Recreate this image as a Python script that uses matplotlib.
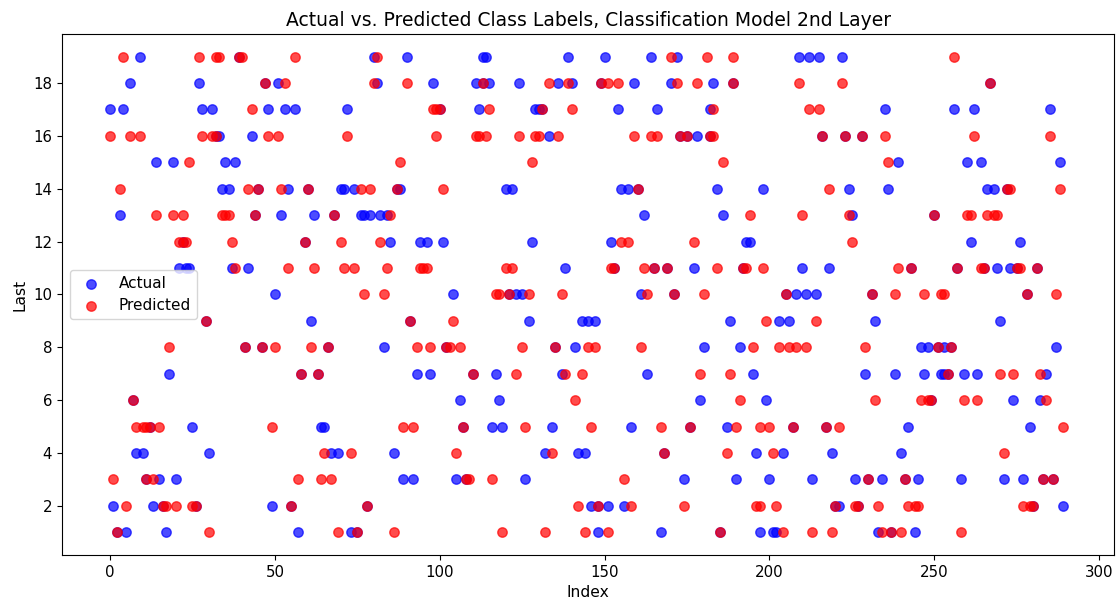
"""Actual vs. predicted class labels, classification model 2nd layer."""

import matplotlib

matplotlib.use("Agg")
import matplotlib.pyplot as plt

# Index positions, one list per class label ("Last").
actual_19 = [9, 39, 80, 90, 113, 114, 139, 150, 164, 172, 209, 212, 215, 222]
actual_18 = [6, 27, 47, 51, 81, 98, 111, 113, 115, 124, 136, 140, 149, 159, 170, 183, 189, 267]
actual_17 = [0, 4, 28, 31, 48, 53, 56, 72, 100, 112, 129, 130, 131, 154, 166, 182, 235, 256, 262, 285]
actual_16 = [32, 33, 43, 133, 173, 175, 178, 182, 216, 223, 228]
actual_15 = [14, 19, 35, 38, 239, 260, 264, 288]
actual_14 = [34, 36, 45, 54, 60, 70, 71, 74, 87, 88, 120, 122, 155, 157, 160, 184, 198, 224, 236, 266, 268, 272]
actual_13 = [3, 44, 52, 62, 68, 76, 77, 79, 82, 84, 162, 186, 225, 250]
actual_12 = [22, 59, 85, 94, 96, 101, 128, 152, 193, 194, 261, 276]
actual_11 = [21, 23, 24, 37, 42, 138, 153, 165, 169, 177, 192, 210, 218, 243, 257, 265, 269, 273, 275, 281]
actual_10 = [50, 104, 121, 123, 125, 161, 171, 205, 208, 211, 214, 231, 278]
actual_9 = [29, 61, 91, 127, 143, 145, 147, 188, 203, 206, 232, 270]
actual_8 = [41, 46, 66, 83, 102, 135, 141, 180, 191, 246, 248, 251, 253, 255, 287]
actual_7 = [18, 58, 63, 93, 97, 110, 117, 137, 163, 195, 229, 238, 247, 252, 253, 254, 259, 263, 284]
actual_6 = [7, 106, 118, 179, 199, 249, 274, 282]
actual_5 = [12, 25, 64, 65, 107, 116, 119, 134, 158, 176, 187, 207, 217, 242, 279]
actual_4 = [8, 10, 30, 67, 69, 86, 132, 142, 144, 168, 196, 204, 219, 240]
actual_3 = [11, 15, 20, 89, 92, 105, 108, 126, 174, 190, 200, 213, 226, 230, 234, 241, 245, 258, 271, 277, 283, 286]
actual_2 = [1, 13, 16, 26, 49, 55, 78, 146, 148, 151, 156, 220, 221, 227, 280, 289]
actual_1 = [2, 5, 17, 57, 73, 75, 148, 167, 185, 197, 201, 202, 233, 237, 244]

pred_19 = [4, 27, 32, 33, 39, 40, 56, 81, 170, 181, 189, 256]
pred_18 = [47, 53, 80, 90, 113, 133, 139, 149, 151, 154, 172, 178, 189, 209, 222, 267]
pred_17 = [43, 98, 99, 100, 115, 131, 140, 183, 212, 215]
pred_16 = [0, 6, 9, 28, 31, 32, 48, 51, 72, 99, 111, 112, 114, 124, 129, 130, 136, 159, 164, 166, 173, 175,
           182, 183, 216, 223, 228, 235, 262, 285]
pred_15 = [24, 88, 128, 186, 236]
pred_14 = [3, 42, 45, 52, 60, 76, 79, 87, 101, 160, 218, 272, 273, 288]
pred_13 = [14, 19, 22, 34, 35, 36, 44, 68, 85, 194, 210, 224, 250, 260, 261, 266, 268, 269]
pred_12 = [21, 22, 23, 37, 59, 70, 82, 155, 157, 177, 225]
pred_11 = [38, 54, 62, 71, 74, 84, 94, 95, 96, 120, 122, 152, 153, 162, 165, 169, 184, 192, 193, 198, 239,
           243, 257, 264, 265, 275, 276, 281]
pred_10 = [77, 83, 117, 118, 121, 127, 137, 163, 171, 180, 205, 231, 238, 247, 252, 253, 278, 287]
pred_9 = [29, 91, 104, 199, 214]
pred_8 = [18, 41, 46, 50, 61, 66, 93, 97, 102, 103, 106, 125, 135, 145, 147, 161, 195, 203, 206, 208, 211,
          229, 251, 255]
pred_7 = [58, 63, 110, 123, 138, 143, 179, 188, 254, 270, 274, 282]
pred_6 = [7, 141, 191, 232, 246, 248, 249, 259, 263, 284]
pred_5 = [8, 10, 11, 12, 15, 49, 89, 92, 107, 126, 146, 167, 176, 190, 197, 200, 207, 217, 221, 289]
pred_4 = [65, 73, 105, 134, 168, 187, 201, 271]
pred_3 = [1, 11, 13, 57, 64, 67, 108, 109, 116, 156, 230, 241, 283, 286]
pred_2 = [5, 16, 17, 20, 25, 26, 55, 78, 142, 148, 158, 174, 196, 197, 202, 220, 226, 227, 233, 242, 244,
          245, 277, 279, 280]
pred_1 = [2, 30, 69, 75, 86, 119, 132, 144, 151, 185, 204, 213, 219, 234, 237, 240, 258]

LABELS = list(range(19, 0, -1))
ACTUAL = [actual_19, actual_18, actual_17, actual_16, actual_15, actual_14, actual_13, actual_12, actual_11,
          actual_10, actual_9, actual_8, actual_7, actual_6, actual_5, actual_4, actual_3, actual_2, actual_1]
PREDICTED = [pred_19, pred_18, pred_17, pred_16, pred_15, pred_14, pred_13, pred_12, pred_11,
             pred_10, pred_9, pred_8, pred_7, pred_6, pred_5, pred_4, pred_3, pred_2, pred_1]
X_TICKS = [0, 50, 100, 150, 200, 250, 300]
Y_TICKS = [2, 4, 6, 8, 10, 12, 14, 16, 18]


def _flatten(groups):
    xs, ys = [], []
    for label, idx in zip(LABELS, groups):
        xs.extend(idx)
        ys.extend([label] * len(idx))
    return xs, ys


def main():
    fig, ax = plt.subplots(figsize=(11.17, 6.09), dpi=100)

    xs, ys = _flatten(ACTUAL)
    ax.scatter(xs, ys, color="blue", alpha=0.7, s=46, label="Actual")
    xs, ys = _flatten(PREDICTED)
    ax.scatter(xs, ys, color="red", alpha=0.7, s=46, label="Predicted")

    ax.set_xlim(-14.56, 304.55)
    ax.set_ylim(0.147, 19.85)
    ax.set_xticks(X_TICKS)
    ax.set_yticks(Y_TICKS)
    ax.tick_params(labelsize=10.8)

    ax.set_title("Actual vs. Predicted Class Labels, Classification Model 2nd Layer", fontsize=13.5, pad=6)
    ax.set_xlabel("Index", fontsize=11.2)
    ax.set_ylabel("Last", fontsize=11.2)
    ax.legend(loc="center left", fontsize=11)

    fig.subplots_adjust(left=0.0555, right=0.9975, top=0.944, bottom=0.089)
    fig.savefig("out.png", dpi=100)


if __name__ == "__main__":
    main()
